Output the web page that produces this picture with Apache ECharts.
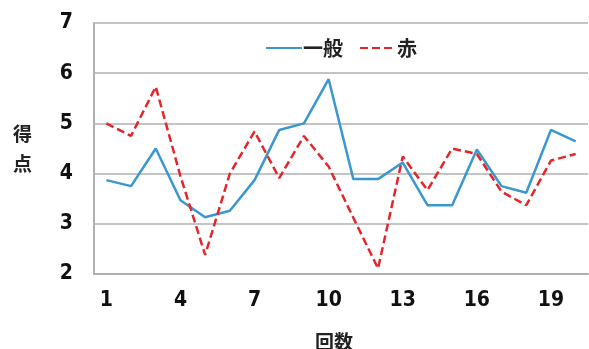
<!DOCTYPE html>
<html><head><meta charset="utf-8">
<script src="https://cdn.jsdelivr.net/npm/echarts@6/dist/echarts.min.js"></script>
<style>html,body{margin:0;padding:0;background:#fff}#c{width:589px;height:349px}</style>
</head><body><div id="c"></div>
<script>
const categories = ['1','2','3','4','5','6','7','8','9','10','11','12','13','14','15','16','17','18','19','20'];
const ippan = [3.87,3.75,4.50,3.47,3.13,3.26,3.87,4.87,5.00,5.88,3.89,3.89,4.22,3.37,3.37,4.48,3.75,3.62,4.87,4.64];
const aka = [5.00,4.75,5.73,3.95,2.38,4.00,4.84,3.91,4.75,4.14,3.12,2.11,4.34,3.67,4.50,4.39,3.64,3.37,4.26,4.39];
const seriesNames = ['一般','赤'];
const yTicks = [2,3,4,5,6,7];

const FONT = '"Liberation Sans Narrow","DejaVu Sans Condensed","Liberation Sans",sans-serif';
const chart = echarts.init(document.getElementById('c'), null, {renderer:'canvas'});
chart.setOption({
  animation:false,
  backgroundColor:'#fff',
  grid:{left:94,right:1,top:23,bottom:75,containLabel:false,outerBoundsMode:'none'},
  legend:{
    left:260, top:33, itemWidth:36, itemHeight:14, itemGap:16,
    itemStyle:{opacity:0},
    textStyle:{fontFamily:'"Noto Sans CJK JP",sans-serif',fontSize:20,fontWeight:'bold',color:'#222',padding:[0,0,0,-4]},
    data:seriesNames
  },
  xAxis:{
    type:'category', data:categories, boundaryGap:true,
    name:'回数', nameLocation:'middle', nameGap:58,
    nameTextStyle:{fontFamily:'"Noto Sans CJK JP",sans-serif',fontSize:19,fontWeight:'bold',color:'#222',padding:[0,14,0,0]},
    axisLine:{lineStyle:{color:'#b0b0b0',width:2}},
    axisTick:{show:false},
    axisLabel:{interval:2,margin:16,fontFamily:FONT,fontSize:21,fontWeight:'bold',color:'#111'},
    splitLine:{show:false}
  },
  yAxis:{
    type:'value', min:2, max:7, interval:1,
    name:'得\n点', nameLocation:'middle', nameRotate:0, nameGap:62,
    nameTextStyle:{fontFamily:'"Noto Sans CJK JP",sans-serif',fontSize:19,fontWeight:'bold',color:'#222',lineHeight:30},
    axisLine:{show:true,lineStyle:{color:'#b0b0b0',width:2}},
    axisTick:{show:false},
    axisLabel:{margin:21,fontFamily:FONT,fontSize:21,fontWeight:'bold',color:'#111',
      formatter:v=>yTicks.includes(v)?String(v):''},
    splitLine:{lineStyle:{color:'#c4c4c4',width:2}}
  },
  series:[
    {name:seriesNames[0],type:'line',data:ippan,symbol:'none',
     lineStyle:{color:'#3a97cf',width:2.5},itemStyle:{color:'#3a97cf'}},
    {name:seriesNames[1],type:'line',data:aka,symbol:'none',
     lineStyle:{color:'#e3262b',width:2.5,type:[8,4]},itemStyle:{color:'#e3262b'}}
  ]
});
</script></body></html>
